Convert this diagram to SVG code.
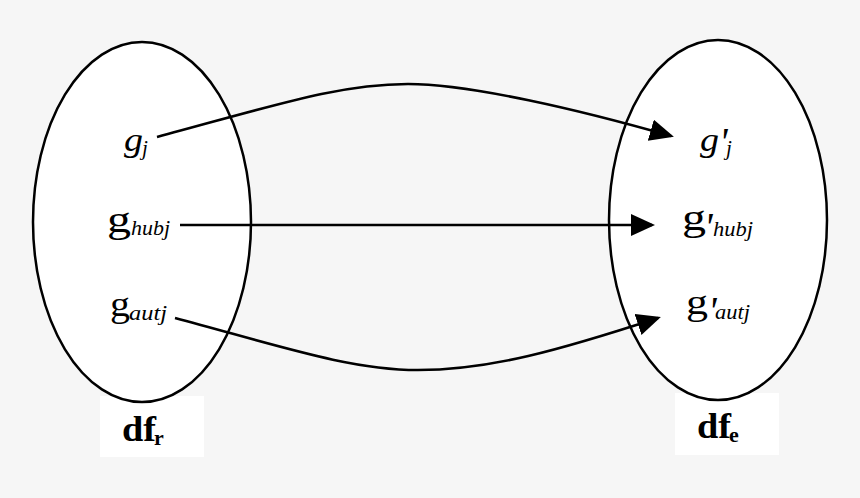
<svg xmlns="http://www.w3.org/2000/svg" width="860" height="498" viewBox="0 0 860 498">
<style>
.bg{fill:#f6f6f6}
.set{fill:#ffffff;stroke:#000;stroke-width:2.5}
.box{fill:#ffffff}
.lbl{font-family:"Liberation Serif","Times New Roman",serif;fill:#000}
.it{font-style:italic}
.bd{font-weight:bold}
.conn{fill:none;stroke:#000;stroke-width:2.6}
</style>
<defs>
<marker id="ah" markerUnits="userSpaceOnUse" markerWidth="26" markerHeight="24" refX="21" refY="11" orient="auto">
<path d="M0,0 L24,11 L0,22 z" fill="#000"/>
</marker>
</defs>
<rect class="bg" x="0" y="0" width="860" height="498"/>

<g id="set-dfr">
<rect class="box" x="100" y="396" width="104" height="61"/>
<ellipse class="set" cx="142" cy="222" rx="109" ry="180"/>
<text class="lbl bd"><tspan x="122" y="441" font-size="35" textLength="34" lengthAdjust="spacingAndGlyphs">df</tspan><tspan x="154" y="445" font-size="22">r</tspan></text>
</g>

<g id="set-dfe">
<rect class="box" x="675" y="393" width="104" height="62"/>
<ellipse class="set" cx="718" cy="220" rx="109" ry="180"/>
<text class="lbl bd"><tspan x="697" y="438" font-size="35" textLength="34" lengthAdjust="spacingAndGlyphs">df</tspan><tspan x="729" y="442" font-size="22">e</tspan></text>
</g>

<g id="node-gj">
<text class="lbl it"><tspan x="124" y="151" font-size="34" textLength="19" lengthAdjust="spacingAndGlyphs">g</tspan><tspan x="142" y="155" font-size="21">j</tspan></text>
</g>
<g id="node-ghubj">
<text class="lbl"><tspan x="107" y="232" font-size="38" textLength="24" lengthAdjust="spacingAndGlyphs">g</tspan><tspan class="it" x="131" y="235" font-size="21" textLength="39" lengthAdjust="spacingAndGlyphs">hubj</tspan></text>
</g>
<g id="node-gautj">
<text class="lbl"><tspan x="110" y="316" font-size="36" textLength="20" lengthAdjust="spacingAndGlyphs">g</tspan><tspan class="it" x="129" y="320" font-size="21" textLength="38" lengthAdjust="spacingAndGlyphs">autj</tspan></text>
</g>

<g id="node-gpj">
<text class="lbl it"><tspan x="700" y="151" font-size="34" textLength="19" lengthAdjust="spacingAndGlyphs">g</tspan><tspan x="719" y="155" font-size="40">'</tspan><tspan x="726" y="155" font-size="21">j</tspan></text>
</g>
<g id="node-gphubj">
<text class="lbl"><tspan x="682" y="230" font-size="38" textLength="24" lengthAdjust="spacingAndGlyphs">g</tspan><tspan class="it" x="704" y="240" font-size="40">'</tspan><tspan class="it" x="713" y="236" font-size="21" textLength="40" lengthAdjust="spacingAndGlyphs">hubj</tspan></text>
</g>
<g id="node-gpautj">
<text class="lbl"><tspan x="686" y="314" font-size="36" textLength="22" lengthAdjust="spacingAndGlyphs">g</tspan><tspan class="it" x="708" y="324" font-size="40">'</tspan><tspan class="it" x="715" y="319" font-size="21" textLength="35" lengthAdjust="spacingAndGlyphs">autj</tspan></text>
</g>

<g id="connectors">
<path class="conn" d="M157,137 C280,104 340,84 408,84 C470,84 580,110 671,136" marker-end="url(#ah)"/>
<path class="conn" d="M180,225 L652,225" marker-end="url(#ah)"/>
<path class="conn" d="M175,318 C280,346 350,370 418,370 C490,370 560,350 658,318" marker-end="url(#ah)"/>
</g>
</svg>
